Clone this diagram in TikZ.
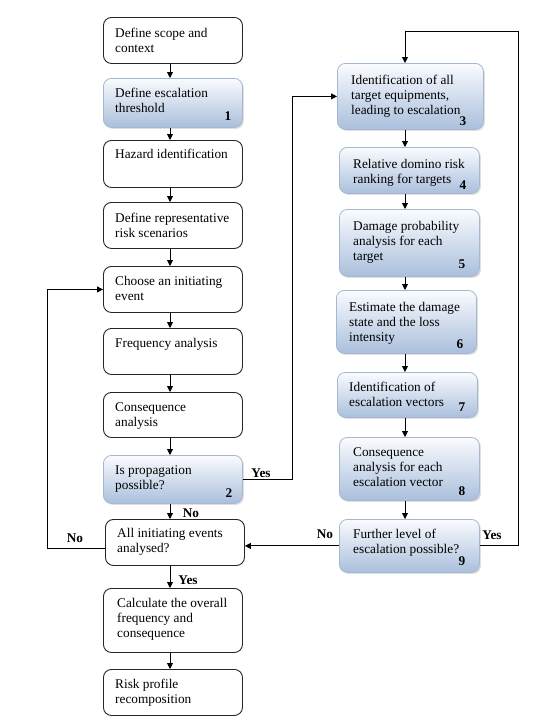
\documentclass[tikz,border=0pt]{standalone}
\usepackage{fontspec}
\setmainfont{Liberation Serif}
\usetikzlibrary{arrows.meta,shadows,calc}
\definecolor{bluebot}{RGB}{170,191,220}
\definecolor{bluetop}{RGB}{250,251,254}
\definecolor{blueline}{RGB}{165,184,210}
\tikzset{
 wbox/.style={draw=black!85, line width=0.9pt, rounded corners=8pt, fill=white, anchor=north west, inner sep=0pt},
 bbox/.style={draw=blueline, line width=0.8pt, rounded corners=8pt, top color=bluetop, bottom color=bluebot, anchor=north west, inner sep=0pt, drop shadow={shadow xshift=1.5pt, shadow yshift=-1.5pt, opacity=0.25}},
 txt/.style={anchor=base west, inner sep=0pt, font=\fontsize{13.3}{15}\selectfont},
 num/.style={anchor=base, inner sep=0pt, font=\fontsize{13.3}{15}\selectfont\bfseries},
 lab/.style={anchor=base, inner sep=0pt, font=\fontsize{13.3}{15}\selectfont\bfseries},
 arr/.style={-{Triangle[length=6pt,width=6pt]}, line width=0.9pt},
}
\newcommand\bt[1]{\parbox[t]{160pt}{#1}}
\begin{document}
\begin{tikzpicture}[x=1pt,y=-1pt]
\useasboundingbox (0,0) rectangle (544,721);
\fill[white] (0,0) rectangle (544,721);
% left column boxes
\node[wbox, minimum width=139pt, minimum height=46pt] (L1) at (103,17) {};
\node[bbox, minimum width=139pt, minimum height=49pt] (L2) at (103,78) {};
\node[wbox, minimum width=139pt, minimum height=47pt] (L3) at (103,140) {};
\node[wbox, minimum width=139pt, minimum height=46pt] (L4) at (103,202) {};
\node[wbox, minimum width=139pt, minimum height=46pt] (L5) at (103,266) {};
\node[wbox, minimum width=139pt, minimum height=46pt] (L6) at (103,328) {};
\node[wbox, minimum width=139pt, minimum height=45pt] (L7) at (103,392) {};
\node[bbox, minimum width=139pt, minimum height=48pt] (L8) at (103,455) {};
\node[wbox, minimum width=139pt, minimum height=46pt] (L9) at (105,519) {};
\node[wbox, minimum width=139pt, minimum height=64pt] (L10) at (103,588) {};
\node[wbox, minimum width=139pt, minimum height=46pt] (L11) at (103,669) {};
% right column boxes
\node[bbox, minimum width=146pt, minimum height=66pt] (R3) at (337,63) {};
\node[bbox, minimum width=140pt, minimum height=46pt] (R4) at (339,147) {};
\node[bbox, minimum width=140pt, minimum height=67pt] (R5) at (339,209) {};
\node[bbox, minimum width=140pt, minimum height=63pt] (R6) at (336,290) {};
\node[bbox, minimum width=140pt, minimum height=45pt] (R7) at (337,372) {};
\node[bbox, minimum width=140pt, minimum height=63pt] (R8) at (339,437) {};
\node[bbox, minimum width=140pt, minimum height=53pt] (R9) at (339,519) {};
% texts
\node[txt] (tL1) at (115,37) {\bt{Define scope and\\context}};
\node[txt] (tL2) at (115,97) {\bt{Define escalation\\threshold}};
\node[txt] (tL3) at (115,158) {\bt{Hazard identification}};
\node[txt] (tL4) at (115,222) {\bt{Define representative\\risk scenarios}};
\node[txt] (tL5) at (115,285) {\bt{Choose an initiating\\event}};
\node[txt] (tL6) at (115,347) {\bt{Frequency analysis}};
\node[txt] (tL7) at (115,411) {\bt{Consequence\\analysis}};
\node[txt] (tL8) at (115,474) {\bt{Is propagation\\possible?}};
\node[txt] (tL9) at (117,537) {\bt{All initiating events\\analysed?}};
\node[txt] (tL10) at (117,607) {\bt{Calculate the overall\\frequency and\\consequence}};
\node[txt] (tL11) at (115,688) {\bt{Risk profile\\recomposition}};
\node[txt] (tR3) at (351,84) {\bt{Identification of all\\target equipments,\\leading to escalation}};
\node[txt] (tR4) at (353,168) {\bt{Relative domino risk\\ranking for targets}};
\node[txt] (tR5) at (353,230) {\bt{Damage probability\\analysis for each\\target}};
\node[txt] (tR6) at (349,311) {\bt{Estimate the damage\\state and the loss\\intensity}};
\node[txt] (tR7) at (349,391) {\bt{Identification of\\escalation vectors}};
\node[txt] (tR8) at (353,456) {\bt{Consequence\\analysis for each\\escalation vector}};
\node[txt] (tR9) at (353,538) {\bt{Further level of\\escalation possible?}};
% numbers
\node[num] (n1) at (228,120) {1};
\node[num] (n2) at (229,497) {2};
\node[num] (n3) at (463,125) {3};
\node[num] (n4) at (463,189) {4};
\node[num] (n5) at (462,268) {5};
\node[num] (n6) at (460,348) {6};
\node[num] (n7) at (462,411) {7};
\node[num] (n8) at (462,495) {8};
\node[num] (n9) at (462,565) {9};
% helper coordinates
\coordinate (xl) at (170,0);
\coordinate (xr) at (405,0);
\coordinate (ytop) at (518,31);
\coordinate (pj) at (292,0);
\coordinate (lj) at (47,0);
% left column arrows
\draw[arr] (L1.south -| xl) -- (L2.north -| xl);
\draw[arr] (L2.south -| xl) -- (L3.north -| xl);
\draw[arr] (L3.south -| xl) -- (L4.north -| xl);
\draw[arr] (L4.south -| xl) -- (L5.north -| xl);
\draw[arr] (L5.south -| xl) -- (L6.north -| xl);
\draw[arr] (L6.south -| xl) -- (L7.north -| xl);
\draw[arr] (L7.south -| xl) -- (L8.north -| xl);
\draw[arr] (L8.south -| xl) -- (L9.north -| xl);
\draw[arr] (L9.south -| xl) -- (L10.north -| xl);
\draw[arr] (L10.south -| xl) -- (L11.north -| xl);
% right column arrows
\draw[arr] (R3.south -| xr) -- (R4.north -| xr);
\draw[arr] (R4.south -| xr) -- (R5.north -| xr);
\draw[arr] (R5.south -| xr) -- (R6.north -| xr);
\draw[arr] (R6.south -| xr) -- (R7.north -| xr);
\draw[arr] (R7.south -| xr) -- (R8.north -| xr);
\draw[arr] (R8.south -| xr) -- (R9.north -| xr);
% loops
\draw[arr] (R9.east) -| (ytop) -| (R3.north -| xr);
\draw[arr] (L8.east) -| (pj |- R3.west) -- (R3.west);
\draw[arr] (R9.west) -- (R9.west -| L9.east);
\coordinate (lo) at ($(L9.west)+(0,6)$);
\draw[arr] (lo) -| (lj |- L5.west) -- (L5.west);
% labels
\node[lab] (yes1) at (261,477) {Yes};
\node[lab] (no1) at (191,517) {No};
\node[lab] (yes2) at (188,584) {Yes};
\node[lab] (no2) at (75,542) {No};
\node[lab] (no3) at (325,538) {No};
\node[lab] (yes3) at (492,539) {Yes};
\end{tikzpicture}
\end{document}
